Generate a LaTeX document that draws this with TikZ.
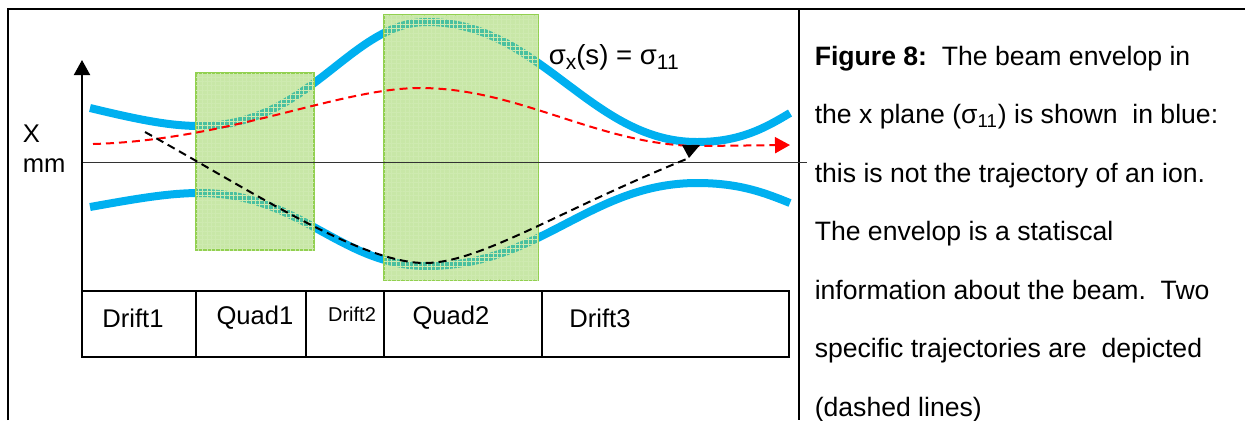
\documentclass[tikz,border=0pt]{standalone}
\usepackage{fontspec}
\setmainfont{Liberation Sans}
\usetikzlibrary{arrows.meta,patterns.meta,positioning,calc}
\definecolor{beamblue}{RGB}{0,176,240}
\definecolor{quadgreen}{RGB}{146,208,80}
\newcommand{\lowsub}[1]{\raisebox{-0.4ex}{\fontsize{10.5}{12}\selectfont #1}}
\tikzset{every picture/.style={line width=0.75pt}}
\tikzset{
  envelope/.style={beamblue, line width=4pt},
  trajectory/.style={dash pattern=on 4pt off 2.5pt, line width=1pt},
  quadmagnet/.style={draw=quadgreen, line width=1pt, fill=quadgreen, fill opacity=0.5,
    postaction={pattern={Hatch[angle=0,distance=2.2pt,line width=0.2pt]}, pattern color=white!55!quadgreen}},
  elemlabel/.style={font=\fontsize{12.8}{15}\selectfont, inner sep=0pt},
  tiptri/.style={-{Triangle[length=7.5pt,width=8pt]}},
}

\begin{document}
\begin{tikzpicture}[x=0.5pt,y=-0.5pt]
    \useasboundingbox (0,0) rectangle (1245,420);

    % frame of the table
    \draw[line width=1pt] (8,420) -- (8,9) -- (1245,9);
    \draw[line width=1pt] (799,9) -- (799,420);

    % beam envelope
    \draw[envelope] (90,108) .. controls (140,120) and (170,126) .. (200,126)
        .. controls (310,126) and (350,22) .. (427,22)
        .. controls (540,22) and (590,142) .. (697,142)
        .. controls (740,142) and (765,128) .. (790,113);
    \draw[envelope] (90,207) .. controls (140,198) and (170,193) .. (200,193)
        .. controls (300,193) and (340,266) .. (427,266)
        .. controls (540,266) and (590,183) .. (697,183)
        .. controls (740,183) and (765,193) .. (790,203);

    % quadrupoles
    \draw[quadmagnet] (196,73) rectangle (314,250);
    \draw[quadmagnet] (384,15) rectangle (538,280);

    % axes
    \draw[line width=0.5pt, black!80] (82,162) -- (807,162);
    \draw[line width=1pt, tiptri] (82,291) -- (82,60);
    \node[elemlabel, anchor=west] (xlabel) at (22,134) {X};
    \node[elemlabel, anchor=west] (mmlabel) at (22,166) {mm};

    % two trajectories
    \draw[trajectory, red, tiptri] (93,144) .. controls (230,140) and (340,88) .. (420,88)
        .. controls (520,88) and (600,146) .. (700,146) -- (790,145);
    \draw[trajectory, black] (145,132) .. controls (250,190) and (360,263) .. (425,263)
        .. controls (480,263) and (560,210) .. (689,158) coordinate (trajend);
    \fill (trajend) -- ++(-7,-13) -- ++(18,0) -- cycle;

    % lattice elements
    \draw (82,291) rectangle (789,357);
    \foreach \xd in {196,306,384,542}
        \draw (\xd,291) -- (\xd,357);
    \node[elemlabel] (drift1) at (133,318) {Drift1};
    \node[elemlabel] (quad1) at (255,318) {Quad1};
    \node[elemlabel, font=\fontsize{10}{12}\selectfont] (drift2) at (352,314) {Drift2};
    \node[elemlabel] (quad2) at (451,318) {Quad2};
    \node[elemlabel] (drift3) at (600,318) {Drift3};

    % envelope label
    \node[elemlabel, anchor=west, font=\fontsize{13.8}{15}\selectfont] (sigmalabel) at (548,57)
        {σ\lowsub{x}(s) = σ\lowsub{11}};

    % caption
    \node[anchor=north west, inner sep=0pt, align=left, font=\fontsize{13.3}{29.25}\selectfont] (caption) at (814,45)
        {\textbf{Figure 8:}\ \ The beam envelop in\\
         the x plane (σ\textsubscript{11}) is shown\ \ in blue:\\
         this is not the trajectory of an ion.\\
         The envelop is a statiscal\\
         information about the beam.\ \ Two\\
         specific trajectories are\ \ depicted\\
         (dashed lines)};
\end{tikzpicture}
\end{document}
